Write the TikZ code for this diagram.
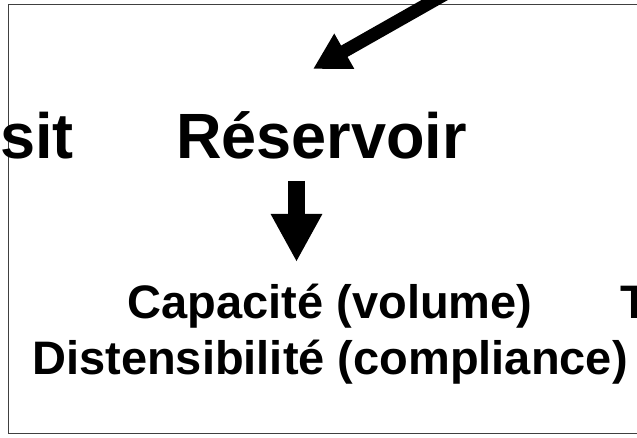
\documentclass[tikz,border=0pt]{standalone}
\usepackage{fontspec}
\setmainfont{Liberation Sans}
\newfontfamily\bigfont[FakeStretch=0.985]{Liberation Sans}
\usetikzlibrary{arrows.meta}
\tikzset{
  bigtext/.style={inner sep=0pt, font=\bigfont\bfseries\fontsize{64}{76}\selectfont},
  midtext/.style={inner sep=0pt, font=\bfseries\fontsize{47}{56}\selectfont},
  diagarrow/.style={line width=13pt, -{Triangle[length=36pt,width=38pt]}},
  downarrow/.style={line width=17pt, -{Triangle[length=48pt,width=48pt]}},
  frame/.style={line width=1pt, draw=black!75}
}
\begin{document}
\begin{tikzpicture}[x=1pt,y=-1pt]
\useasboundingbox (0,0) rectangle (637,438);
\clip (0,0) rectangle (637,438);
\fill[white] (0,0) rectangle (637,438);
% frame
\draw[frame] (660,5) -- (8.5,5) -- (8.5,433) -- (660,433);
% texts
\node[bigtext, anchor=base east] (sit) at (74,159) {sit};
\node[bigtext, anchor=base west] (res) at (176,159) {Réservoir};
\node[midtext, anchor=base] (cap) at (330,318) {Capacité (volume)};
\node[midtext, anchor=base] (dist) at (330,374) {Distensibilité (compliance)};
\node[midtext, anchor=base west] (t) at (620,318) {T};
% arrows
\coordinate (dstart) at (470,-20);
\coordinate (dtip) at (313,69);
\draw[diagarrow] (dstart) -- (dtip);
\coordinate (vstart) at (296.5,181);
\coordinate (vtip) at (296.5,262);
\draw[downarrow] (vstart) -- (vtip);
\end{tikzpicture}
\end{document}
